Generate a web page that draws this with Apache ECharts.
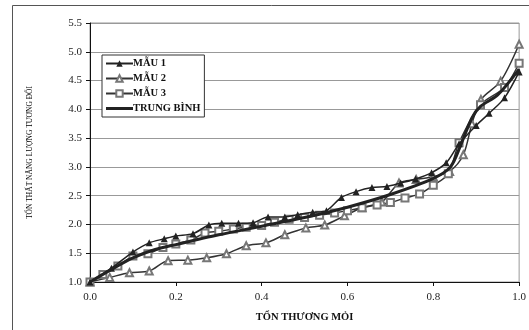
<!DOCTYPE html>
<html><head><meta charset="utf-8">
<script src="https://cdn.jsdelivr.net/npm/echarts@6/dist/echarts.min.js"></script>
<style>html,body{margin:0;padding:0;background:#fff}#c{width:529px;height:330px}</style>
</head><body><div id="c"></div>
<script>
const seriesNames = ['MẪU 1', 'MẪU 2', 'MẪU 3', 'TRUNG BÌNH'];
const xTicks = [0, 0.2, 0.4, 0.6, 0.8, 1.0];
const yTicks = [1.0, 1.5, 2.0, 2.5, 3.0, 3.5, 4.0, 4.5, 5.0, 5.5];

const mau1X = [0, 0.05, 0.1, 0.138, 0.173, 0.2, 0.24, 0.277, 0.307, 0.346, 0.38, 0.415, 0.454, 0.484, 0.519, 0.551, 0.586, 0.62, 0.657, 0.692, 0.724, 0.759, 0.796, 0.83, 0.86, 0.9, 0.93, 0.966, 1.0];
const mau1Y = [1.0, 1.24, 1.52, 1.68, 1.75, 1.80, 1.84, 1.99, 2.02, 2.02, 2.03, 2.13, 2.13, 2.17, 2.21, 2.24, 2.47, 2.57, 2.64, 2.66, 2.72, 2.79, 2.90, 3.07, 3.40, 3.72, 3.93, 4.20, 4.65];

const mau2X = [0, 0.046, 0.092, 0.138, 0.182, 0.228, 0.272, 0.318, 0.364, 0.41, 0.454, 0.503, 0.547, 0.593, 0.634, 0.68, 0.72, 0.76, 0.8, 0.838, 0.87, 0.89, 0.911, 0.957, 1.0];
const mau2Y = [1.0, 1.08, 1.16, 1.19, 1.37, 1.38, 1.42, 1.49, 1.63, 1.68, 1.82, 1.94, 1.99, 2.15, 2.29, 2.39, 2.72, 2.78, 2.83, 2.92, 3.21, 3.75, 4.17, 4.49, 5.13];

const mau3X = [0, 0.03, 0.065, 0.1, 0.135, 0.17, 0.2, 0.235, 0.268, 0.3, 0.334, 0.364, 0.4, 0.43, 0.464, 0.5, 0.535, 0.57, 0.6, 0.634, 0.669, 0.7, 0.734, 0.768, 0.8, 0.835, 0.86, 0.91, 0.966, 1.0];
const mau3Y = [1.0, 1.13, 1.28, 1.45, 1.49, 1.60, 1.66, 1.73, 1.85, 1.88, 1.92, 1.95, 1.98, 2.04, 2.09, 2.12, 2.16, 2.20, 2.24, 2.29, 2.34, 2.38, 2.46, 2.53, 2.68, 2.88, 3.42, 4.08, 4.38, 4.80];

const tbX = [0, 0.05, 0.1, 0.15, 0.2, 0.3, 0.4, 0.5, 0.6, 0.7, 0.8, 0.84, 0.865, 0.89, 0.91, 0.95, 1.0];
const tbY = [1.0, 1.22, 1.42, 1.56, 1.65, 1.82, 1.97, 2.12, 2.30, 2.52, 2.80, 3.00, 3.40, 3.85, 4.05, 4.25, 4.70];

function pairs(xs, ys) { return xs.map((x, i) => [x, ys[i]]); }

const font = '"Liberation Serif", "DejaVu Serif", serif';
const chart = echarts.init(document.getElementById('c'), null, {renderer: 'canvas'});
chart.setOption({
  animation: false,
  backgroundColor: '#fff',
  grid: {left: 90, right: 5, top: 23, bottom: 48, show: true, borderColor: '#999', borderWidth: 1},
  legend: {
    orient: 'vertical', left: 102, top: 55,
    backgroundColor: '#fff', borderColor: '#333', borderWidth: 1,
    padding: [3, 4, 3, 3], itemGap: 4, itemWidth: 27, itemHeight: 8,
    symbolKeepAspect: true,
    textStyle: {fontFamily: font, fontWeight: 'bold', fontSize: 10.5, color: '#111', padding: [0, 0, 0, -5]},
    data: [
      seriesNames[0], seriesNames[1], seriesNames[2],
      {name: seriesNames[3], icon: 'path://M0,0 H27 V3 H0 Z', itemStyle: {color: '#222'}}
    ]
  },
  xAxis: {
    type: 'value', min: 0, max: 1, interval: 0.2,
    name: 'TỔN THƯƠNG MỎI', nameLocation: 'middle', nameGap: 30,
    nameTextStyle: {fontFamily: font, fontWeight: 'bold', fontSize: 10.5, color: '#111'},
    axisLine: {lineStyle: {color: '#111', width: 1}},
    axisTick: {show: true, length: 4, lineStyle: {color: '#111'}},
    axisLabel: {fontFamily: font, fontSize: 11, color: '#222', margin: 10, formatter: v => v.toFixed(1)},
    splitLine: {show: false}
  },
  yAxis: {
    type: 'value', min: 1.0, max: 5.5, interval: 0.5,
    name: 'TỔN THẤT NĂNG LƯỢNG TƯƠNG ĐỐI', nameLocation: 'middle', nameGap: 56, nameRotate: 90,
    nameTextStyle: {fontFamily: font, fontSize: 7.5, color: '#000'},
    axisLine: {show: true, lineStyle: {color: '#111', width: 1}},
    axisTick: {show: true, length: 4, lineStyle: {color: '#111'}},
    axisLabel: {fontFamily: font, fontSize: 11, color: '#222', margin: 8, formatter: v => v.toFixed(1)},
    splitLine: {show: true, lineStyle: {color: '#999', width: 1}}
  },
  series: [
    {name: seriesNames[0], type: 'line', smooth: 0.3, data: pairs(mau1X, mau1Y),
     symbol: 'triangle', symbolSize: 7, lineStyle: {color: '#222', width: 1.5},
     itemStyle: {color: '#222'}, z: 4},
    {name: seriesNames[1], type: 'line', smooth: 0.3, data: pairs(mau2X, mau2Y),
     symbol: 'emptyTriangle', symbolSize: 7, lineStyle: {color: '#333', width: 1.5},
     itemStyle: {color: '#777', borderWidth: 1}, z: 3},
    {name: seriesNames[2], type: 'line', smooth: 0.3, data: pairs(mau3X, mau3Y),
     symbol: 'emptyRect', symbolSize: 7, lineStyle: {color: '#333', width: 1.5},
     itemStyle: {color: '#777', borderWidth: 1}, z: 3},
    {name: seriesNames[3], type: 'line', smooth: 0.3, data: pairs(tbX, tbY),
     symbol: 'none', showSymbol: false, lineStyle: {color: '#222', width: 3},
     itemStyle: {color: '#222'}, z: 5}
  ],
  graphic: [
    {type: 'rect', left: 10, top: 3, shape: {width: 530, height: 325}, silent: true,
     style: {fill: 'none', stroke: '#555', lineWidth: 1}, z: -1}
  ]
});
</script></body></html>
